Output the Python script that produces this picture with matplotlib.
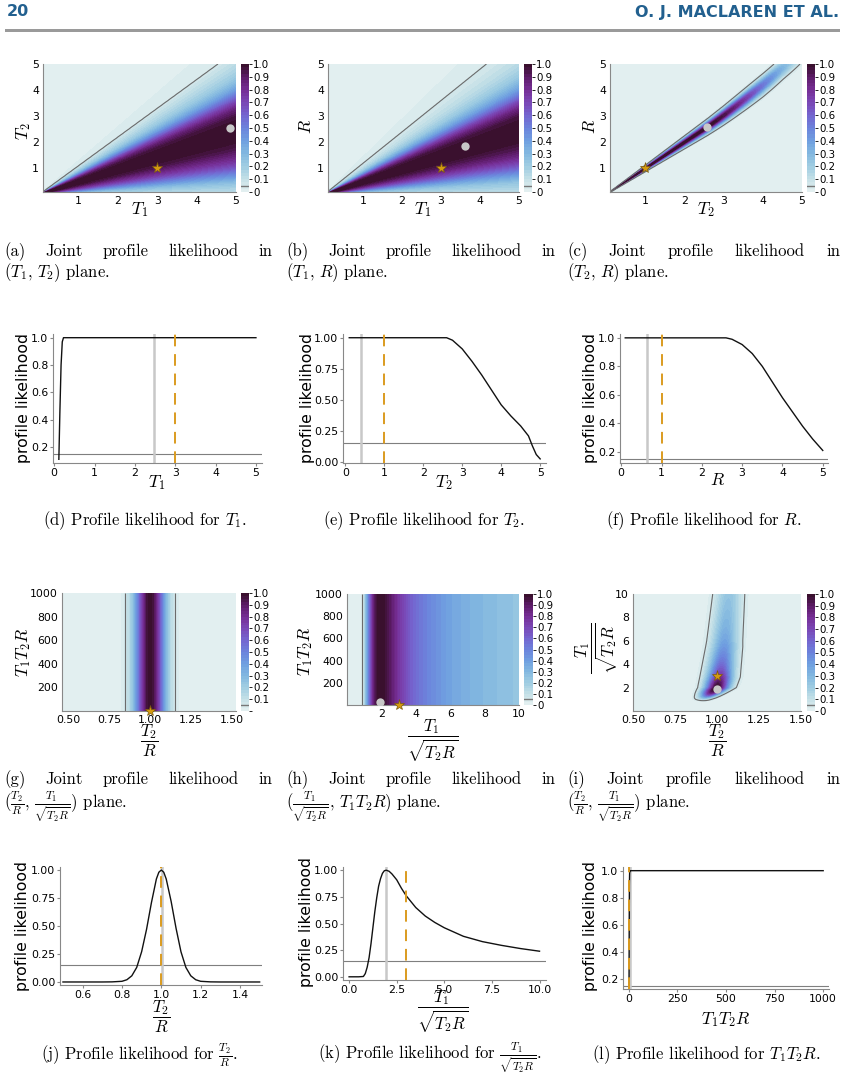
import numpy as np
import matplotlib
matplotlib.use("Agg")
import matplotlib.pyplot as plt
from matplotlib.colors import LinearSegmentedColormap

W, H = 846, 1079
plt.rcParams['mathtext.fontset'] = 'cm'
plt.rcParams['font.family'] = 'DejaVu Sans'

# ---------------- data ----------------
# 1-D profile likelihoods
d_x = [0.115, 0.14, 0.17, 0.20, 0.23, 1.0, 2.0, 3.0, 4.0, 5.0]
d_y = [0.11, 0.45, 0.80, 0.97, 1.00, 1.0, 1.0, 1.0, 1.0, 1.0]
e_x = [0.1, 1.0, 2.0, 2.6, 2.75, 3.0, 3.25, 3.5, 3.75, 4.0, 4.25, 4.5, 4.7, 4.8, 4.9, 5.0]
e_y = [1.0, 1.0, 1.0, 1.0, 0.98, 0.91, 0.81, 0.70, 0.58, 0.46, 0.37, 0.29, 0.21, 0.13, 0.06, 0.025]
f_x = [0.1, 1.0, 2.0, 2.6, 2.75, 3.0, 3.25, 3.5, 3.75, 4.0, 4.25, 4.5, 4.75, 5.0]
f_y = [1.0, 1.0, 1.0, 1.0, 0.99, 0.953, 0.89, 0.80, 0.69, 0.58, 0.48, 0.38, 0.29, 0.21]
j_x = [0.5, 0.7, 0.75, 0.8, 0.825, 0.85, 0.875, 0.9, 0.925, 0.95, 0.975, 0.9875, 1.0,
       1.0125, 1.025, 1.05, 1.075, 1.1, 1.125, 1.15, 1.175, 1.2, 1.25, 1.3, 1.5]
j_y = [0.0, 0.0, 0.001, 0.006, 0.02, 0.055, 0.13, 0.27, 0.47, 0.71, 0.92, 0.98, 1.0,
       0.98, 0.92, 0.72, 0.48, 0.27, 0.13, 0.055, 0.02, 0.006, 0.001, 0.0, 0.0]
k_x = [0.0, 0.5, 0.75, 0.85, 0.95, 1.05, 1.15, 1.25, 1.35, 1.45, 1.55, 1.65, 1.75, 1.85,
       1.95, 2.1, 2.25, 2.5, 2.75, 3.0, 3.5, 4.0, 4.5, 5.0, 6.0, 7.0, 8.0, 9.0, 10.0]
k_y = [0.0, 0.0, 0.003, 0.03, 0.09, 0.18, 0.31, 0.46, 0.61, 0.74, 0.85, 0.92, 0.97, 0.995,
       1.0, 0.99, 0.965, 0.91, 0.83, 0.76, 0.65, 0.57, 0.51, 0.46, 0.38, 0.33, 0.295, 0.265, 0.24]
l_x = [1, 2, 3, 4, 6, 10, 1000]
l_y = [0.155, 0.6, 0.9, 0.98, 1.0, 1.0, 1.0]

# MLE (grey) and true (orange) values for the 1-D panels
mle_1d = {'d': 2.48, 'e': 0.39, 'f': 0.64, 'j': 1.003, 'k': 1.93, 'l': 8.0}
true_1d = {'d': 3.0, 'e': 1.0, 'f': 1.0, 'j': 1.0, 'k': 3.0, 'l': 3.0}
thr_1d = 0.15
thr_2d = 0.05

# 2-D panels: likelihood across the ratio of the two axes
a_ratio = [0.0, 0.05, 0.1, 0.15, 0.2, 0.25, 0.3, 0.35, 0.4, 0.45, 0.5, 0.55, 0.6, 0.65, 0.7,
           0.75, 0.8, 0.85, 0.9, 0.95, 1.0, 1.05, 1.1, 1.2, 1.5, 3.0, 60.0]
a_like = [0.10, 0.17, 0.28, 0.45, 0.62, 0.76, 0.86, 0.94, 0.98, 1.0, 1.0, 0.99, 0.95, 0.87,
          0.73, 0.56, 0.40, 0.29, 0.21, 0.16, 0.12, 0.085, 0.05, 0.03, 0.015, 0.005, 0.0]
b_ratio = [0.0, 0.05, 0.1, 0.15, 0.2, 0.25, 0.3, 0.35, 0.4, 0.45, 0.5, 0.55, 0.6, 0.65, 0.7,
           0.75, 0.8, 0.85, 0.9, 0.95, 1.0, 1.1, 1.2, 1.3, 1.6, 3.0, 60.0]
b_like = [0.10, 0.16, 0.25, 0.40, 0.58, 0.73, 0.85, 0.93, 0.98, 1.0, 1.0, 0.99, 0.95, 0.86,
          0.72, 0.55, 0.40, 0.30, 0.22, 0.17, 0.13, 0.08, 0.05, 0.035, 0.015, 0.005, 0.0]
# (c): ridge centre of R/T2 along T2, and cross-ridge width factor
c_t2 = [0.0, 1.0, 2.0, 2.6, 3.0, 3.5, 4.0, 4.5, 5.0]
c_centre = [1.0, 1.0, 1.0, 1.0, 1.01, 1.03, 1.05, 1.08, 1.1]
c_width = 0.82
# (i): ridge centre and width of T2/R along T1/sqrt(T2 R)
i_y = [0.0, 1.0, 1.34, 2.0, 2.9, 5.5, 10.0]
i_centre = [0.9, 0.92, 0.948, 1.0, 1.018, 1.043, 1.07]
i_width = [0.55, 0.55, 0.58, 0.75, 0.82, 0.86, 0.86]

# markers: true value (star) and MLE (grey dot)
star_pts = {'a': (3.0, 1.0), 'b': (3.0, 1.0), 'c': (1.0, 1.0),
            'g': (1.0, 3.0), 'h': (3.0, 3.0), 'i': (1.0, 3.0)}
dot_pts = {'a': (4.86, 2.55), 'b': (3.62, 1.88), 'c': (2.57, 2.59),
           'h': (1.94, 30.0), 'i': (1.0, 1.9)}

# ---------------- style ----------------
cmap = LinearSegmentedColormap.from_list('dense_like', [
    (0.0, '#e6f1f1'), (0.1, '#c4e0e6'), (0.2, '#a0cde2'), (0.3, '#83b8e0'),
    (0.4, '#6f9fe0'), (0.5, '#6c83dc'), (0.6, '#7465cf'), (0.7, '#7a47b6'),
    (0.8, '#762e95'), (0.9, '#5c1b68'), (1.0, '#350f26')])
ORANGE = '#DB9B1F'
GREY_MLE = '#c8c8c8'
SPINE = '#888888'
CAP_FONT = 'cmr10'

fig = plt.figure(figsize=(W / 100, H / 100), dpi=100)
fig.patch.set_facecolor('white')


def ax_px(l, t, r, b):
    return fig.add_axes([l / W, 1 - b / H, (r - l) / W, (b - t) / H])


def ftext(x, y, s, **kw):
    return fig.text(x / W, 1 - y / H, s, **kw)


# ---------------- header ----------------
hdr = dict(fontsize=11.5, fontweight='bold', color='#22608f',
           family=['Liberation Sans Narrow', 'DejaVu Sans'], va='center')
ftext(7, 12, '20', ha='left', **hdr)
ftext(839, 12, 'O. J. MACLAREN ET AL.', ha='right', **hdr)
fig.add_artist(plt.Rectangle((5 / W, 1 - 32 / H), 835 / W, 3 / H,
                             transform=fig.transFigure, color='#9a9a9a', lw=0))


# ---------------- heatmaps ----------------
def heat(key, box, cbox, X, Y, Z, xlim, ylim, xt, xtl, yt, ytl, zero_label=True):
    ax = ax_px(*box)
    cax = ax_px(*cbox)
    levels = np.linspace(0, 1, 41)
    cf = ax.contourf(X, Y, Z, levels=levels, cmap=cmap, vmin=0, vmax=1)
    ax.contour(X, Y, Z, levels=[thr_2d], colors='#6b6b6b', linewidths=0.8)
    if key in star_pts:
        sx, sy = star_pts[key]
        ax.plot([sx], [sy], marker='*', ms=8, color='#D49A10', mec='#7a5a10', mew=0.5,
                zorder=5, clip_on=False)
    if key in dot_pts:
        dx, dy = dot_pts[key]
        ax.plot([dx], [dy], marker='o', ms=6, color=GREY_MLE, mec='none', zorder=5)
    ax.set_xlim(*xlim)
    ax.set_ylim(*ylim)
    ax.set_xticks(xt)
    ax.set_xticklabels(xtl)
    ax.set_yticks(yt)
    ax.set_yticklabels(ytl)
    for s in ['top', 'right']:
        ax.spines[s].set_visible(False)
    for s in ['left', 'bottom']:
        ax.spines[s].set_color(SPINE)
        ax.spines[s].set_linewidth(0.8)
    ax.tick_params(labelsize=7.8, length=0, pad=3)
    cb = fig.colorbar(cf, cax=cax)
    ticks = [0.0, 0.1, 0.2, 0.3, 0.4, 0.5, 0.6, 0.7, 0.8, 0.9, 1.0]
    labs = ['0', '0.1', '0.2', '0.3', '0.4', '0.5', '0.6', '0.7', '0.8', '0.9', '1.0']
    if not zero_label:
        labs[0] = ''
    cb.set_ticks(ticks)
    cb.set_ticklabels(labs)
    cb.outline.set_visible(False)
    cax.tick_params(labelsize=7.4, length=2.5, width=0.6, pad=0.5)
    cax.axhline(thr_2d, color='#777777', lw=1.0)
    return ax


def plane(x0, x1, y0, y1, n=300):
    x = np.linspace(x0, x1, n)
    y = np.linspace(y0, y1, n)
    return np.meshgrid(x, y)


T = [1, 2, 3, 4, 5]
TL = ['1', '2', '3', '4', '5']

# (a) T1, T2
X, Y = plane(0.1, 5, 0.1, 5)
Za = np.interp(Y / X, a_ratio, a_like)
heat('a', (43, 64, 236, 192), (241, 64, 249, 192), X, Y, Za, (0.1, 5), (0.1, 5), T, TL, T, TL)
# (b) T1, R
Zb = np.interp(Y / X, b_ratio, b_like)
heat('b', (328, 64, 519, 192), (524, 64, 532, 192), X, Y, Zb, (0.1, 5), (0.1, 5), T, TL, T, TL)
# (c) T2, R
q = Y / X
qc = np.interp(X, c_t2, c_centre)
Zc = np.interp((X + Y) / 2, f_x, f_y) * np.interp(1 + (q - qc) / c_width, j_x, j_y)
heat('c', (610, 64, 802, 192), (807, 64, 815, 192), X, Y, Zc, (0.1, 5), (0.1, 5), T, TL, T, TL)

# (g) T2/R, T1T2R
Xg, Yg = plane(0.46, 1.54, 0, 1000, 400)
Zg = np.interp(Xg, j_x, j_y)
heat('g', (62, 593, 236, 711), (241, 593, 249, 711), Xg, Yg, Zg, (0.463, 1.524), (0, 1000),
     [0.5, 0.75, 1.0, 1.25, 1.5], ['0.50', '0.75', '1.00', '1.25', '1.50'],
     [200, 400, 600, 800, 1000], ['200', '400', '600', '800', '1000'], zero_label=False)
# (h) T1/sqrt(T2R), T1T2R
Xh, Yh = plane(0, 10, 0, 1000, 400)
Zh = np.interp(Xh, k_x, k_y)
heat('h', (347, 594, 519, 705), (524, 594, 533, 705), Xh, Yh, Zh, (0, 10), (0, 1000),
     [2, 4, 6, 8, 10], ['2', '4', '6', '8', '10'],
     [200, 400, 600, 800, 1000], ['200', '400', '600', '800', '1000'])
# (i) T2/R, T1/sqrt(T2R)
Xi, Yi = plane(0.5, 1.5, 0, 10, 400)
ic = np.interp(Yi, i_y, i_centre)
iw = np.interp(Yi, i_y, i_width)
Zi = np.interp(Yi, k_x, k_y) * np.interp(1 + (Xi - ic) / iw, j_x, j_y)
heat('i', (633, 594, 801, 711), (807, 594, 815, 711), Xi, Yi, Zi, (0.5, 1.5), (0, 10),
     [0.5, 0.75, 1.0, 1.25, 1.5], ['0.50', '0.75', '1.00', '1.25', '1.50'],
     [2, 4, 6, 8, 10], ['2', '4', '6', '8', '10'])


# ---------------- 1-D profiles ----------------
def prof(key, box, xs, ys, xlim, ylim, xt, xtl, yt, ytl):
    ax = ax_px(*box)
    ax.axhline(thr_1d, color='#7f7f7f', lw=0.8, zorder=1)
    ax.axvline(mle_1d[key], color=GREY_MLE, lw=1.8, zorder=2)
    ax.axvline(true_1d[key], color=ORANGE, lw=1.4, ls=(0, (6, 4)), zorder=4)
    ax.plot(xs, ys, color='#111111', lw=1.0, zorder=3)
    ax.set_xlim(*xlim)
    ax.set_ylim(*ylim)
    ax.set_xticks(xt)
    ax.set_xticklabels(xtl)
    ax.set_yticks(yt)
    ax.set_yticklabels(ytl)
    for s in ['top', 'right']:
        ax.spines[s].set_visible(False)
    for s in ['left', 'bottom']:
        ax.spines[s].set_color(SPINE)
        ax.spines[s].set_linewidth(0.8)
    ax.tick_params(labelsize=7.8, length=2, color=SPINE, pad=1.5)
    return ax


Y2 = [0.2, 0.4, 0.6, 0.8, 1.0]
Y2L = ['0.2', '0.4', '0.6', '0.8', '1.0']
Y4 = [0.0, 0.25, 0.5, 0.75, 1.0]
Y4L = ['0.00', '0.25', '0.50', '0.75', '1.00']
X5 = [0, 1, 2, 3, 4, 5]
X5L = ['0', '1', '2', '3', '4', '5']
prof('d', (53, 334, 262, 463), d_x, d_y, (-0.03, 5.15), (0.083, 1.027), X5, X5L, Y2, Y2L)
prof('e', (343, 334, 546, 463), e_x, e_y, (-0.06, 5.15), (-0.008, 1.03), X5, X5L, Y4, Y4L)
prof('f', (620, 334, 828, 463), f_x, f_y, (-0.03, 5.13), (0.122, 1.027), X5, X5L, Y2, Y2L)
prof('j', (60, 867, 262, 985), j_x, j_y, (0.485, 1.512), (-0.027, 1.027),
     [0.6, 0.8, 1.0, 1.2, 1.4], ['0.6', '0.8', '1.0', '1.2', '1.4'], Y4, Y4L)
prof('k', (343, 867, 546, 980), k_x, k_y, (-0.32, 10.34), (-0.03, 1.03),
     [0, 2.5, 5, 7.5, 10], ['0.0', '2.5', '5.0', '7.5', '10.0'], Y4, Y4L)
prof('l', (623, 867, 829, 989), l_x, l_y, (-30, 1030), (0.13, 1.027),
     [0, 250, 500, 750, 1000], ['0', '250', '500', '750', '1000'], Y2, Y2L)

# ---------------- axis labels ----------------
ML = dict(fontsize=12.5, ha='center', va='center')
FL = dict(fontsize=12, ha='center', va='center')
PL = dict(fontsize=11.3, ha='center', va='center', rotation=90)
# heatmaps
ftext(139.5, 210, r'$T_1$', **ML)
ftext(24, 131, r'$T_2$', rotation=90, **ML)
ftext(423, 210, r'$T_1$', **ML)
ftext(306, 126, r'$R$', rotation=90, **ML)
ftext(706, 210, r'$T_2$', **ML)
ftext(590, 126, r'$R$', rotation=90, **ML)
ftext(149, 741, r'$\dfrac{T_2}{R}$', **FL)
ftext(24, 652, r'$T_1T_2R$', rotation=90, **ML)
ftext(433, 741, r'$\dfrac{T_1}{\sqrt{T_2R}}$', **FL)
ftext(306, 651, r'$T_1T_2R$', rotation=90, **ML)
ftext(717, 741, r'$\dfrac{T_2}{R}$', **FL)
ftext(597, 648, r'$\dfrac{T_1}{\sqrt{T_2R}}$', rotation=90, **FL)
# profiles
ftext(157, 483, r'$T_1$', **ML)
ftext(444, 483, r'$T_2$', **ML)
ftext(718, 480, r'$R$', **ML)
ftext(161, 1017, r'$\dfrac{T_2}{R}$', **FL)
ftext(443, 1012, r'$\dfrac{T_1}{\sqrt{T_2R}}$', **FL)
ftext(726, 1020, r'$T_1T_2R$', **ML)
for x, y in [(23.5, 398), (307, 398), (591, 398), (22, 926), (306, 922), (591, 926)]:
    ftext(x, y, 'profile likelihood', **PL)

# ---------------- captions ----------------
renderer = fig.canvas.get_renderer()
CAP = dict(fontsize=12, family=CAP_FONT, va='baseline')


def justify(words, x0, x1, y):
    texts = [ftext(0, y, w, ha='left', **CAP) for w in words]
    widths = [t.get_window_extent(renderer).width for t in texts]
    gap = (x1 - x0 - sum(widths)) / (len(words) - 1)
    x = x0
    for t, w in zip(texts, widths):
        t.set_x(x / W)
        x += w + gap


words1 = ['Joint', 'profile', 'likelihood', 'in']
cols = [(4, 272), (286, 555), (567, 840)]
for lab, (x0, x1) in zip(['(a)', '(b)', '(c)'], cols):
    justify([lab] + words1, x0, x1, 256)
for lab, (x0, x1) in zip(['(g)', '(h)', '(i)'], cols):
    justify([lab] + words1, x0, x1, 784)
line2_top = [r'$(T_1,\, T_2)$ plane.', r'$(T_1,\, R)$ plane.', r'$(T_2,\, R)$ plane.']
for s, (x0, x1) in zip(line2_top, cols):
    ftext(x0, 277, s, ha='left', **CAP)
line2_mid = [r'$(\frac{T_2}{R},\, \frac{T_1}{\sqrt{T_2R}})$ plane.',
             r'$(\frac{T_1}{\sqrt{T_2R}},\, T_1T_2R)$ plane.',
             r'$(\frac{T_2}{R},\, \frac{T_1}{\sqrt{T_2R}})$ plane.']
for s, (x0, x1) in zip(line2_mid, cols):
    ftext(x0, 808, s, ha='left', **CAP)

ftext(145, 525, r'(d) Profile likelihood for $T_1$.', ha='center', **CAP)
ftext(424, 525, r'(e) Profile likelihood for $T_2$.', ha='center', **CAP)
ftext(704, 525, r'(f) Profile likelihood for $R$.', ha='center', **CAP)
ftext(139, 1059, r'(j) Profile likelihood for $\frac{T_2}{R}$.', ha='center', **CAP)
ftext(430, 1059, r'(k) Profile likelihood for $\frac{T_1}{\sqrt{T_2R}}$.', ha='center', **CAP)
ftext(706, 1059, r'(l) Profile likelihood for $T_1T_2R$.', ha='center', **CAP)

fig.savefig('out.png', dpi=100, facecolor='white')
